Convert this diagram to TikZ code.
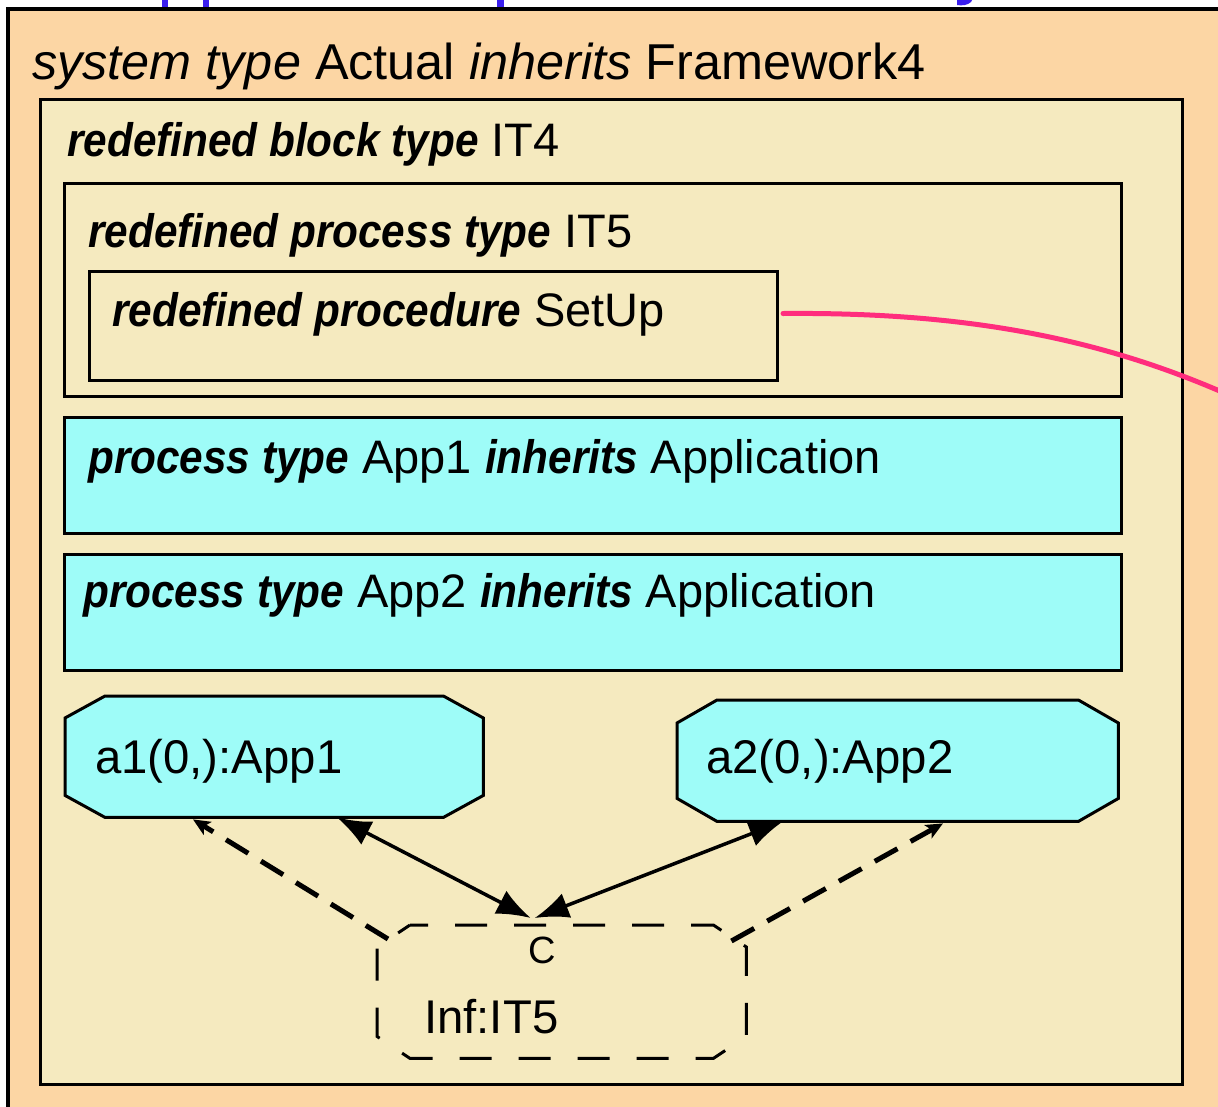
\documentclass[tikz,border=0pt]{standalone}
\usepackage{fontspec}
\setmainfont{Liberation Sans}
\newfontfamily\kwfamily{Liberation Sans}[FakeStretch=0.9]
\usetikzlibrary{arrows.meta,calc}

\definecolor{sysfill}{HTML}{FCD6A4}
\definecolor{blockfill}{HTML}{F5EABF}
\definecolor{procfill}{HTML}{9EFCF8}
\definecolor{linkpink}{HTML}{FF2D7D}
\definecolor{headblue}{HTML}{3A1EEF}

\newcommand\kw[1]{{\kwfamily\bfseries\itshape #1}}
% octagon outline around a named rectangular node: #1 style, #2 node, #3 x-cut, #4 y-cut
\newcommand\octoutline[4]{%
  \draw[#1] ([xshift=#3]#2.north west) -- ([xshift=-#3]#2.north east)
    -- ([yshift=-#4]#2.north east) -- ([yshift=#4]#2.south east)
    -- ([xshift=-#3]#2.south east) -- ([xshift=#3]#2.south west)
    -- ([yshift=#4]#2.south west) -- ([yshift=-#4]#2.north west) -- cycle;}

\begin{document}
\begin{tikzpicture}[x=1pt,y=-1pt,
  area/.style={draw=black, line width=3pt, inner sep=0pt, anchor=north west},
  slot/.style={inner sep=0pt, anchor=north west},
  txt/.style={inner sep=0pt, anchor=base west, font=\fontsize{47}{54}\selectfont},
  insttxt/.style={inner sep=0pt, anchor=base west, font=\fontsize{47.3}{56}\selectfont},
  octo/.style={draw=black, line width=3pt, line join=miter},
  octodash/.style={draw=black, line width=3pt, dash pattern=on 32pt off 27pt, dash phase=14pt},
  route/.style={line width=3.5pt, {Latex[length=34pt,width=26pt]}-{Latex[length=34pt,width=26pt]}},
  dep/.style={line width=5pt, dash pattern=on 26pt off 15pt, -{Stealth[length=17pt,width=15pt,inset=4pt]}},
  link/.style={draw=linkpink, line width=5pt, line cap=round}]

\useasboundingbox (0,0) rectangle (1218,1106);
\clip (0,0) rectangle (1218,1106);
\fill[white] (0,0) rectangle (1218,1106);

% heading above the frame, cut by the page edge
\fill[headblue] (162,0) rectangle (168,7);
\fill[headblue] (203,0) rectangle (209,7);
\fill[headblue] (497,0) rectangle (504,7);
\fill[headblue] (957,0) -- (972,0) -- (971,2) .. controls (968,5) and (962,6) .. (957,5) -- cycle;

% system frame
\draw[fill=sysfill, line width=4pt] (7.5,8.5) rectangle (1260,1140);
\node[txt, font=\fontsize{50.4}{60}\selectfont] (systitle) at (32,79)
  {\textit{system type} Actual \textit{inherits} Framework4};

% block IT4
\node[area, fill=blockfill, minimum width=1142pt, minimum height=985pt] (it4) at (39,98) {};
\node[txt] (it4title) at (67,156) {\kw{redefined block type} IT4};

% process type IT5 with procedure SetUp
\node[area, minimum width=1057pt, minimum height=213pt] (it5) at (63,182) {};
\node[txt] (it5title) at (88,247) {\kw{redefined process type} IT5};
\node[area, minimum width=688pt, minimum height=109pt] (setup) at (88,270) {};
\node[txt] (setuptitle) at (112,326) {\kw{redefined procedure} SetUp};

% process types App1 and App2
\node[area, fill=procfill, minimum width=1057pt, minimum height=116pt] (app1) at (63,416) {};
\node[txt] (app1title) at (88,473) {\kw{process type} App1 \kw{inherits} Application};
\node[area, fill=procfill, minimum width=1057pt, minimum height=116pt] (app2) at (63,553) {};
\node[txt] (app2title) at (83,607) {\kw{process type} App2 \kw{inherits} Application};

% process instance sets
\node[slot, minimum width=418pt, minimum height=121pt] (a1) at (65,696) {};
\fill[procfill] ([xshift=40pt]a1.north west) -- ([xshift=-40pt]a1.north east)
    -- ([yshift=-22pt]a1.north east) -- ([yshift=22pt]a1.south east)
    -- ([xshift=-40pt]a1.south east) -- ([xshift=40pt]a1.south west)
    -- ([yshift=22pt]a1.south west) -- ([yshift=-22pt]a1.north west) -- cycle;
\octoutline{octo}{a1}{40pt}{22pt}
\node[insttxt] (a1name) at (95,773) {a1(0,):App1};

\node[slot, minimum width=441pt, minimum height=121pt] (a2) at (677,700) {};
\fill[procfill] ([xshift=40pt]a2.north west) -- ([xshift=-40pt]a2.north east)
    -- ([yshift=-23pt]a2.north east) -- ([yshift=23pt]a2.south east)
    -- ([xshift=-40pt]a2.south east) -- ([xshift=40pt]a2.south west)
    -- ([yshift=23pt]a2.south west) -- ([yshift=-23pt]a2.north west) -- cycle;
\octoutline{octo}{a2}{40pt}{23pt}
\node[insttxt] (a2name) at (706,773) {a2(0,):App2};

% block instance Inf of type IT5
\node[slot, minimum width=369pt, minimum height=133pt] (inf) at (377,925) {};
\octoutline{octodash}{inf}{33pt}{22pt}
\node[insttxt] (infname) at (424,1033) {Inf:IT5};
\node[inner sep=0pt, anchor=base west, font=\fontsize{38}{44}\selectfont] (gate) at (528,963) {C};

% channels through gate C
\coordinate (gateL) at ([xshift=-31pt, yshift=7pt]inf.north);
\coordinate (gateR) at ([xshift=-27pt, yshift=7pt]inf.north);
\draw[route] ([xshift=272pt]a1.south west) -- (gateL);
\draw[route] ([xshift=106pt]a2.south west) -- (gateR);

% dependencies from Inf to the instance sets
\draw[dep] ([xshift=11pt, yshift=-14pt]inf.north west) -- ([xshift=128pt, yshift=-2pt]a1.south west);
\draw[dep] ([xshift=-15pt, yshift=-16pt]inf.north east) -- ([xshift=266pt, yshift=-2pt]a2.south west);

% reference line leaving procedure SetUp
\coordinate (linkend) at (1240,400);
\draw[link] ([xshift=4pt, yshift=12.5pt]setup.east) .. controls (960,312) and (1100,336) .. (linkend);

\end{tikzpicture}
\end{document}
